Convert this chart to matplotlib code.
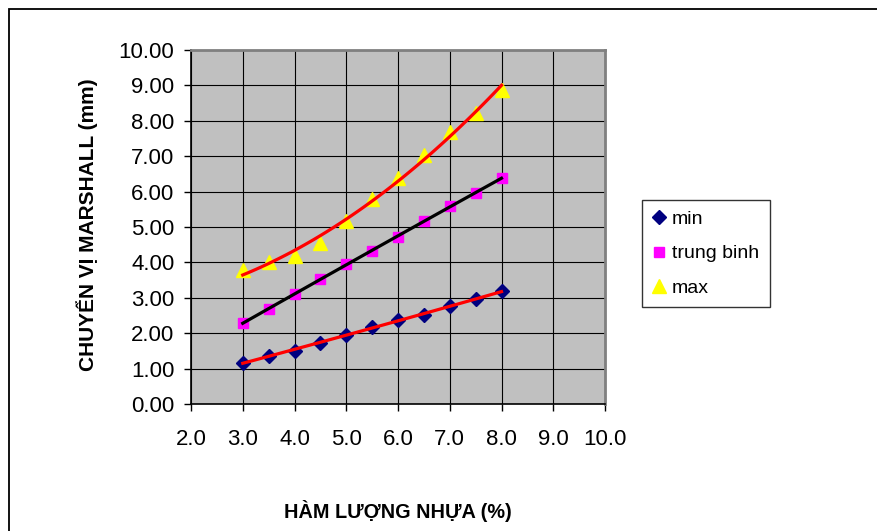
import matplotlib
matplotlib.use("Agg")
import matplotlib.pyplot as plt
import numpy as np
from matplotlib.patches import Rectangle

plt.rcParams['font.family'] = ['Liberation Sans', 'DejaVu Sans']

# Data
x_vals = [3.0, 3.5, 4.0, 4.5, 5.0, 5.5, 6.0, 6.5, 7.0, 7.5, 8.0]
y_min = [1.16, 1.36, 1.51, 1.72, 1.96, 2.17, 2.38, 2.52, 2.76, 2.96, 3.18]
y_tb = [2.29, 2.68, 3.10, 3.53, 3.95, 4.33, 4.73, 5.16, 5.60, 5.95, 6.38]
y_max = [3.79, 4.01, 4.19, 4.54, 5.16, 5.79, 6.38, 7.04, 7.67, 8.23, 8.87]

x_ticks = [2.0, 3.0, 4.0, 5.0, 6.0, 7.0, 8.0, 9.0, 10.0]
y_ticks = [0, 1, 2, 3, 4, 5, 6, 7, 8, 9, 10]

W, H = 877, 531
fig = plt.figure(figsize=(W / 100, H / 100), dpi=100)

# outer chart border (cut off on right/bottom like the original)
fig.patches.append(Rectangle((8.5 / W, -0.2), 2.0, 1.2 - 8.5 / H,
                             transform=fig.transFigure, fill=False,
                             edgecolor='black', linewidth=1.3))

ax = fig.add_axes([191 / W, 1 - 404 / H, (605 - 191) / W, (404 - 50) / H])
ax.set_facecolor('#C0C0C0')

# trendlines (2nd order polynomial fits, like Excel)
xs = np.linspace(3, 8, 60)
for ys, col in [(y_min, 'red'), (y_tb, 'black'), (y_max, 'red')]:
    coef = np.polyfit(x_vals, ys, 2)
    ax.plot(xs, np.polyval(coef, xs), color=col, linewidth=2.3, zorder=4)

ax.plot(x_vals, y_min, linestyle='none', marker='D', markersize=7,
        color='#000080', label='min', zorder=3)
ax.plot(x_vals, y_tb, linestyle='none', marker='s', markersize=7.5,
        color='#FF00FF', label='trung binh', zorder=3)
ax.plot(x_vals, y_max, linestyle='none', marker='^', markersize=10,
        color='#FFFF00', label='max', zorder=3)

ax.set_xlim(2, 10)
ax.set_ylim(0, 10)
ax.set_xticks(x_ticks)
ax.set_yticks(y_ticks)
ax.set_xticklabels([f"{v:.1f}" for v in x_ticks], fontsize=16)
ax.set_yticklabels([f"{v:.2f}" for v in y_ticks], fontsize=16)
ax.tick_params(direction='out', length=5, width=1, color='black')
ax.tick_params(axis='y', pad=7)
ax.tick_params(axis='x', pad=13)
ax.grid(True, color='black', linewidth=0.8)
ax.set_axisbelow(True)

for side in ['top', 'right']:
    ax.spines[side].set_color('#808080')
    ax.spines[side].set_linewidth(2)
for side in ['left', 'bottom']:
    ax.spines[side].set_color('black')
    ax.spines[side].set_linewidth(1.2)

fig.text(87 / W, 1 - 225 / H, 'CHUYỂN VỊ MARSHALL (mm)', rotation=90,
         fontsize=15, fontweight='bold', ha='center', va='center')
fig.text(398 / W, 1 - 511 / H, 'HÀM LƯỢNG NHỰA (%)',
         fontsize=14.3, fontweight='bold', ha='center', va='center')

leg = fig.legend(loc='upper left', bbox_to_anchor=(642 / W, 1 - 200 / H),
                 fontsize=14, frameon=True, fancybox=False, borderpad=0.55,
                 handlelength=0.6, handletextpad=0.4, labelspacing=0.85,
                 borderaxespad=0)
leg.get_frame().set_edgecolor('black')
leg.get_frame().set_linewidth(1)

fig.savefig('out.png', dpi=100)
